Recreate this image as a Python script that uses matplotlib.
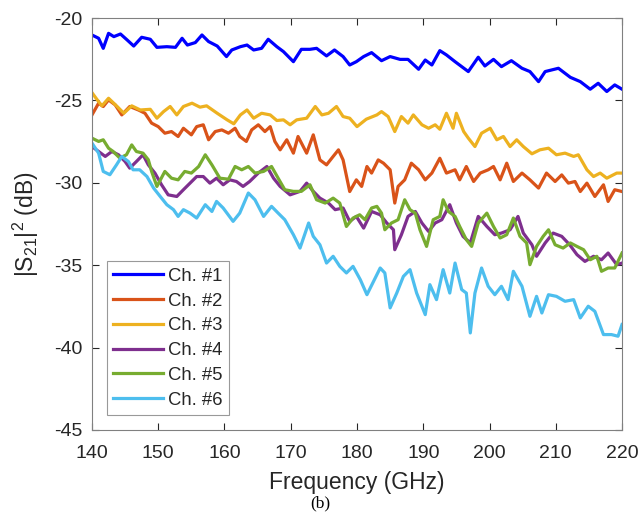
import matplotlib.pyplot as plt

# values (GHz, dB)
f1 = [140.0, 141.0, 141.7, 142.5, 143.3, 144.3, 145.3, 146.3, 147.5, 148.8, 149.8, 151.3, 152.6, 153.6,
      154.4, 155.6, 156.6, 157.6, 158.9, 160.3, 161.1, 162.4, 163.4, 164.4, 165.6, 166.6, 167.9, 168.9,
      170.4, 171.6, 172.9, 173.9, 175.4, 176.6, 177.9, 178.9, 179.9, 181.0, 182.2, 183.7, 185.0, 186.5,
      187.7, 189.3, 190.3, 191.3, 192.5, 193.5, 194.8, 196.8, 198.3, 199.3, 200.6, 201.8, 203.3, 204.9,
      206.1, 207.4, 208.4, 210.4, 212.2, 213.7, 215.2, 216.4, 217.7, 218.9, 220.0]
s1 = [-21.03, -21.23, -21.84, -20.93, -21.13, -20.97, -21.33, -21.70, -21.17, -21.29, -21.78, -21.74,
      -21.78, -21.23, -21.64, -21.49, -21.03, -21.43, -21.70, -22.34, -21.94, -21.74, -21.64, -21.94,
      -21.84, -21.29, -21.74, -22.04, -22.65, -21.90, -21.90, -21.84, -22.30, -21.94, -22.34, -22.85,
      -22.65, -22.34, -22.10, -22.59, -22.34, -22.51, -22.51, -23.11, -22.55, -22.85, -21.98, -22.24,
      -22.65, -23.25, -22.38, -22.91, -22.51, -22.95, -22.59, -23.05, -23.25, -23.86, -23.25, -23.05,
      -23.60, -23.86, -24.32, -23.96, -24.46, -24.06, -24.32]

f2 = [140.0, 141.0, 141.7, 142.5, 143.5, 144.5, 145.7, 147.0, 148.0, 149.0, 150.0, 151.0, 152.0, 153.0,
      153.8, 155.0, 155.8, 156.8, 157.6, 158.6, 159.6, 160.6, 161.6, 162.3, 163.3, 164.1, 165.1, 166.1,
      166.9, 167.6, 168.4, 169.4, 170.4, 171.1, 172.4, 173.4, 174.4, 175.4, 176.4, 177.2, 177.9, 178.9,
      179.9, 180.7, 181.5, 182.2, 183.2, 184.0, 185.0, 185.7, 186.2, 187.2, 188.2, 189.3, 190.3, 191.3,
      192.5, 193.5, 194.8, 195.5, 196.5, 197.6, 198.6, 199.8, 200.6, 201.6, 202.6, 203.6, 204.9, 206.1,
      207.4, 208.6, 209.9, 210.9, 211.9, 212.9, 213.7, 214.7, 215.9, 217.2, 217.9, 218.9, 220.0]
s2 = [-25.88, -25.17, -25.37, -24.97, -25.27, -25.88, -25.37, -25.58, -25.78, -26.38, -26.59, -26.99,
      -26.89, -27.19, -26.69, -27.09, -26.59, -26.48, -27.39, -26.89, -26.79, -26.99, -26.69, -27.19,
      -27.49, -26.79, -26.48, -26.89, -26.59, -27.49, -28.00, -27.39, -28.20, -27.19, -28.20, -27.09,
      -28.61, -28.91, -28.40, -28.00, -28.61, -30.53, -29.82, -30.22, -29.01, -29.41, -28.61, -28.81,
      -29.21, -31.23, -30.22, -29.82, -28.81, -29.21, -29.82, -29.41, -28.51, -29.41, -29.21, -29.82,
      -29.01, -29.92, -29.41, -29.21, -29.01, -29.82, -28.81, -29.92, -29.41, -29.82, -30.32, -29.41,
      -29.92, -29.52, -30.02, -29.92, -30.53, -30.02, -30.83, -30.12, -31.13, -30.42, -30.53]

f3 = [140.0, 140.8, 141.5, 142.5, 143.8, 144.8, 146.0, 147.3, 148.8, 149.8, 150.8, 151.8, 152.8, 153.8,
      155.1, 156.3, 157.3, 158.9, 160.4, 161.4, 162.4, 163.4, 164.4, 165.6, 166.9, 167.9, 168.9, 169.9,
      170.9, 172.4, 173.7, 174.7, 175.7, 176.9, 177.9, 178.9, 180.0, 181.4, 183.0, 183.7, 184.7, 185.7,
      186.7, 187.7, 188.5, 189.8, 190.8, 191.8, 192.5, 193.5, 194.5, 195.0, 196.1, 196.8, 197.8, 198.8,
      200.1, 201.1, 202.1, 203.1, 204.1, 205.1, 206.4, 207.6, 208.9, 210.1, 211.4, 212.7, 213.4, 214.7,
      215.7, 216.7, 217.7, 219.2, 220.0]
s3 = [-24.53, -24.97, -25.33, -24.87, -25.37, -25.78, -25.33, -25.58, -25.54, -26.08, -25.68, -25.37,
      -25.88, -25.37, -25.17, -25.41, -25.33, -25.78, -26.18, -26.42, -25.88, -25.58, -26.08, -25.78,
      -25.88, -26.22, -26.18, -26.48, -26.18, -26.08, -25.37, -25.88, -25.78, -25.37, -25.98, -26.08,
      -26.59, -26.14, -25.88, -25.68, -25.98, -26.89, -25.98, -26.38, -25.88, -26.48, -26.69, -26.48,
      -26.75, -25.78, -26.69, -25.78, -26.89, -27.29, -27.80, -26.99, -26.69, -27.39, -27.19, -27.80,
      -27.39, -27.80, -28.24, -28.00, -27.90, -28.30, -28.20, -28.40, -28.30, -29.21, -29.62, -29.41,
      -29.72, -29.41, -29.41]

f4 = [140.0, 141.0, 142.0, 143.0, 144.0, 145.0, 145.7, 146.7, 147.7, 148.5, 149.5, 150.5, 151.5, 152.8,
      153.8, 154.8, 155.8, 156.8, 157.8, 158.8, 159.8, 160.8, 161.8, 162.8, 163.8, 165.1, 166.4, 167.4,
      168.4, 169.9, 171.4, 172.4, 173.4, 174.4, 175.7, 176.7, 177.9, 178.9, 179.9, 181.0, 182.2, 183.5,
      184.5, 185.5, 185.7, 186.7, 187.7, 188.8, 189.8, 190.8, 191.8, 192.8, 194.0, 195.0, 196.0, 197.1,
      198.3, 199.6, 200.8, 201.8, 203.1, 204.3, 205.1, 206.4, 207.1, 208.4, 209.6, 210.9, 212.1, 213.2,
      214.4, 215.7, 216.9, 217.9, 219.2, 220.0]
s4 = [-27.80, -28.10, -28.40, -28.10, -28.30, -28.71, -29.11, -28.71, -28.30, -28.91, -29.41, -30.12,
      -30.73, -30.83, -30.42, -30.02, -29.62, -29.62, -30.02, -29.72, -30.12, -29.82, -29.92, -30.22,
      -29.92, -29.41, -29.01, -29.72, -30.22, -30.73, -30.52, -30.02, -30.52, -30.93, -31.23, -31.63,
      -31.53, -32.34, -32.04, -32.75, -31.74, -31.94, -32.44, -32.85, -34.06, -33.15, -32.04, -31.74,
      -32.44, -32.95, -32.44, -32.24, -31.33, -32.44, -33.25, -33.65, -32.04, -32.65, -33.15, -33.05,
      -32.85, -32.04, -33.05, -33.76, -34.46, -33.65, -33.05, -33.25, -33.76, -34.36, -34.77, -34.46,
      -34.67, -34.26, -34.97, -34.87]

f5 = [140.0, 141.0, 141.7, 142.5, 143.2, 144.2, 145.2, 146.0, 146.7, 147.7, 148.5, 149.0, 149.8, 151.0,
      152.0, 153.0, 154.0, 155.0, 156.1, 157.1, 158.1, 159.3, 160.6, 161.6, 162.6, 163.6, 164.6, 165.9,
      167.1, 168.1, 169.1, 170.4, 171.6, 172.9, 173.9, 175.2, 176.4, 177.4, 178.4, 179.4, 180.4, 181.2,
      182.2, 183.0, 183.7, 184.2, 185.2, 186.2, 187.2, 188.0, 188.8, 189.5, 190.5, 191.5, 192.5, 193.0,
      193.8, 194.8, 195.5, 196.5, 197.3, 198.3, 199.6, 200.6, 201.6, 202.6, 203.6, 204.6, 205.6, 206.1,
      207.1, 208.1, 208.9, 209.9, 211.1, 212.2, 213.2, 214.2, 215.2, 216.2, 216.9, 217.9, 218.9, 220.0]
s5 = [-27.29, -27.49, -27.39, -27.90, -28.10, -28.50, -28.30, -27.70, -28.10, -28.20, -28.60, -29.31,
      -30.22, -29.31, -29.72, -29.82, -29.31, -29.41, -29.01, -28.30, -28.91, -29.72, -29.78, -29.01,
      -29.21, -29.01, -29.41, -29.31, -29.01, -29.72, -30.42, -30.52, -30.52, -30.12, -31.03, -31.23,
      -30.93, -31.23, -32.65, -32.14, -31.94, -32.24, -31.53, -31.43, -31.84, -32.85, -32.44, -32.24,
      -31.03, -31.63, -31.84, -32.85, -33.86, -32.24, -32.04, -31.03, -31.74, -32.04, -32.65, -33.45,
      -33.86, -32.44, -31.84, -32.65, -33.35, -33.15, -32.14, -33.25, -33.65, -34.97, -33.86, -33.25,
      -32.85, -33.76, -33.96, -33.65, -33.86, -34.06, -34.67, -34.46, -35.37, -35.17, -35.17, -34.26]

f6 = [140.0, 141.0, 141.7, 142.7, 143.7, 144.5, 145.5, 146.2, 147.2, 148.3, 149.3, 150.3, 151.3, 152.3,
      153.0, 153.8, 154.8, 155.8, 157.1, 158.1, 158.8, 159.8, 161.3, 162.3, 163.6, 164.6, 165.9, 167.1,
      168.1, 169.1, 170.4, 171.4, 172.7, 173.4, 174.4, 175.4, 176.4, 177.4, 178.4, 179.4, 180.5, 181.5,
      182.5, 183.5, 184.2, 185.0, 186.0, 187.0, 188.0, 189.0, 190.3, 191.0, 192.0, 193.0, 194.0, 194.8,
      195.8, 196.5, 197.1, 197.8, 198.8, 199.8, 200.8, 201.8, 202.8, 203.6, 204.9, 206.1, 207.1, 207.9,
      208.9, 210.1, 211.4, 212.7, 213.7, 214.9, 215.9, 217.2, 218.4, 219.4, 220.0]
s6 = [-27.59, -28.20, -29.31, -29.51, -28.91, -28.40, -28.71, -29.21, -29.21, -29.62, -30.32, -30.83,
      -31.33, -31.63, -32.04, -31.63, -31.84, -32.14, -31.33, -31.74, -31.13, -31.53, -32.34, -31.84,
      -30.62, -31.03, -32.04, -31.43, -31.84, -32.24, -33.15, -33.96, -32.44, -33.25, -33.76, -34.87,
      -34.46, -35.07, -35.47, -35.07, -35.88, -36.79, -35.98, -35.17, -35.47, -37.59, -36.69, -35.68,
      -35.27, -36.69, -38.00, -36.18, -37.09, -35.27, -36.69, -34.87, -36.48, -36.69, -39.11, -36.69,
      -35.17, -36.28, -36.79, -36.28, -37.09, -35.37, -36.28, -38.10, -36.89, -37.90, -36.79, -36.89,
      -37.19, -37.09, -38.20, -37.49, -37.80, -39.21, -39.21, -39.31, -38.60]

labels = ["Ch. #1", "Ch. #2", "Ch. #3", "Ch. #4", "Ch. #5", "Ch. #6"]
colors = ["#0000FF", "#D95319", "#EDB120", "#7E2F8E", "#77AC30", "#4DBEEE"]

plt.rcParams["font.family"] = ["Liberation Sans", "DejaVu Sans"]
plt.rcParams["axes.unicode_minus"] = False
plt.rcParams["mathtext.fontset"] = "custom"
plt.rcParams["mathtext.rm"] = "Liberation Sans"
plt.rcParams["mathtext.it"] = "Liberation Sans"
grey = "#262626"

fig = plt.figure(figsize=(6.41, 5.19), dpi=100)
ax = fig.add_axes([0.1435, 0.1715, 0.8269, 0.7938])

series = [(f1, s1), (f2, s2), (f3, s3), (f4, s4), (f5, s5), (f6, s6)]
for (f, s), lab, c in zip(series, labels, colors):
    ax.plot(f, s, color=c, lw=2.3, label=lab)

ax.set_xlim(140, 220)
ax.set_ylim(-45, -20)
ax.set_xticks(range(140, 221, 10))
ax.set_yticks(range(-45, -19, 5))
ax.tick_params(direction="in", top=True, right=True, labelsize=14, colors=grey,
               length=5, width=0.8)
ax.tick_params(axis="x", pad=11)
ax.tick_params(axis="y", pad=7)
for sp in ax.spines.values():
    sp.set_color("#808080")
    sp.set_linewidth(0.8)

ax.set_xlabel("Frequency (GHz)", fontsize=16.5, color=grey, labelpad=6)
ax.set_ylabel("|S$_\\mathrm{21}$|$^\\mathrm{2}$ (dB)", fontsize=16.5, color=grey, labelpad=9)

leg = ax.legend(loc="lower left", bbox_to_anchor=(0.028, 0.036), fontsize=13.3, frameon=True,
                fancybox=False, handlelength=2.7, handletextpad=0.25, labelspacing=0.42,
                borderpad=0.35, borderaxespad=0)
leg.get_frame().set_edgecolor("#808080")
leg.get_frame().set_linewidth(0.8)
for t in leg.get_texts():
    t.set_color(grey)

fig.text(0.5, 0.03, "(b)", ha="center", va="center", fontsize=12.5,
         family=["Liberation Serif", "DejaVu Serif"])

fig.savefig("out.png", dpi=100)
